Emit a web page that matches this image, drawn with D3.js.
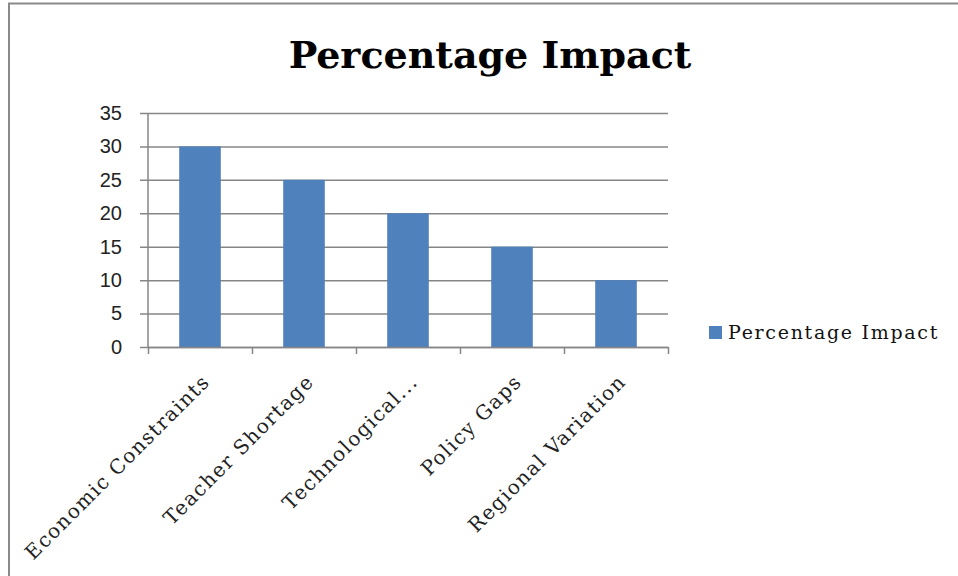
<!DOCTYPE html>
<html>
<head>
<meta charset="utf-8">
<script src="https://cdn.jsdelivr.net/npm/d3@7"></script>
<style>
  html, body { margin: 0; padding: 0; background: #fff; }
  svg { display: block; }
</style>
</head>
<body>
<div id="chart"></div>
<script>
// chart data
var categories = ["Economic Constraints", "Teacher Shortage", "Technological...", "Policy Gaps", "Regional Variation"];
var values = [30, 25, 20, 15, 10];
var seriesName = "Percentage Impact";
var yTicks = [0, 5, 10, 15, 20, 25, 30, 35];

var W = 958, H = 576;
var plot = { left: 148, right: 668, top: 113, bottom: 347 };
var gridColor = "#868686";
var barColor = "#4f81bd";
var serif = "'DejaVu Serif', 'Liberation Serif', serif";

var svg = d3.select("#chart").append("svg")
	.attr("width", W)
	.attr("height", H);

svg.append("rect").attr("width", W).attr("height", H).attr("fill", "#fff");

// outer frame (only top and left edges are visible)
svg.append("path")
	.attr("d", "M9,576V3.5H958")
	.attr("fill", "none")
	.attr("stroke", "#8a8a8a")
	.attr("stroke-width", 2);

// title
svg.append("text")
	.attr("x", 490)
	.attr("y", 68)
	.attr("text-anchor", "middle")
	.attr("font-family", serif)
	.attr("font-weight", "bold")
	.attr("font-size", 38)
	.attr("fill", "#000")
	.text(seriesName);

var y = d3.scaleLinear().domain([0, 35]).range([plot.bottom, plot.top]);
var x = d3.scaleBand().domain(categories).range([plot.left, plot.right]).paddingInner(0.6).paddingOuter(0.3);
var xEdge = d3.scaleLinear().domain([0, categories.length]).range([plot.left, plot.right]);

// gridlines (they also act as the outward y ticks)
var grid = svg.append("g")
	.attr("transform", "translate(" + (plot.left - 8) + ",0)")
	.call(d3.axisRight(y).tickValues(yTicks).tickSize(plot.right - plot.left + 8).tickFormat(""));
grid.select(".domain").remove();
grid.selectAll("line").attr("stroke", gridColor).attr("stroke-width", 1.5);

// y labels
var yAxis = svg.append("g")
	.attr("transform", "translate(" + (plot.left - 8) + ",0)")
	.call(d3.axisLeft(y).tickValues(yTicks).tickSize(0).tickPadding(18));
yAxis.select(".domain").remove();
yAxis.selectAll("text")
	.attr("font-family", "'Liberation Sans Narrow', 'Liberation Sans', Arial, sans-serif")
	.attr("font-size", 20)
	.attr("fill", "#222");

// bars
svg.append("g").selectAll("rect")
	.data(values)
	.enter().append("rect")
	.attr("x", function (d, i) { return x(categories[i]); })
	.attr("width", x.bandwidth())
	.attr("y", function (d) { return y(d); })
	.attr("height", function (d) { return y(0) - y(d); })
	.attr("fill", barColor);

// vertical axis line
svg.append("line")
	.attr("x1", plot.left).attr("x2", plot.left)
	.attr("y1", plot.top).attr("y2", plot.bottom)
	.attr("stroke", gridColor).attr("stroke-width", 1.5);

// category axis with ticks at the band edges
var xAxis = svg.append("g")
	.attr("transform", "translate(0," + plot.bottom + ")")
	.call(d3.axisBottom(xEdge).tickValues(d3.range(categories.length + 1)).tickSize(7).tickSizeOuter(0).tickFormat(""));
xAxis.select(".domain").attr("stroke", gridColor).attr("stroke-width", 1.5);
xAxis.selectAll("line").attr("stroke", gridColor).attr("stroke-width", 1.5);

// rotated category labels
svg.append("g").selectAll("text")
	.data(categories)
	.enter().append("text")
	.attr("transform", function (d) {
		var cx = x(d) + x.bandwidth() / 2;
		return "translate(" + (cx + 11) + "," + (plot.bottom + 36) + ") rotate(-45)";
	})
	.attr("text-anchor", "end")
	.attr("font-family", serif)
	.attr("font-size", 20)
	.attr("letter-spacing", 1.4)
	.attr("fill", "#222")
	.text(function (d) { return d; });

// legend
var legend = svg.append("g").attr("transform", "translate(709,326)");
legend.append("rect").attr("width", 13).attr("height", 13).attr("fill", barColor);
legend.append("text")
	.attr("x", 19)
	.attr("y", 13)
	.attr("font-family", serif)
	.attr("font-size", 19)
	.attr("letter-spacing", 1.7)
	.attr("fill", "#111")
	.text(seriesName);
</script>
</body>
</html>
